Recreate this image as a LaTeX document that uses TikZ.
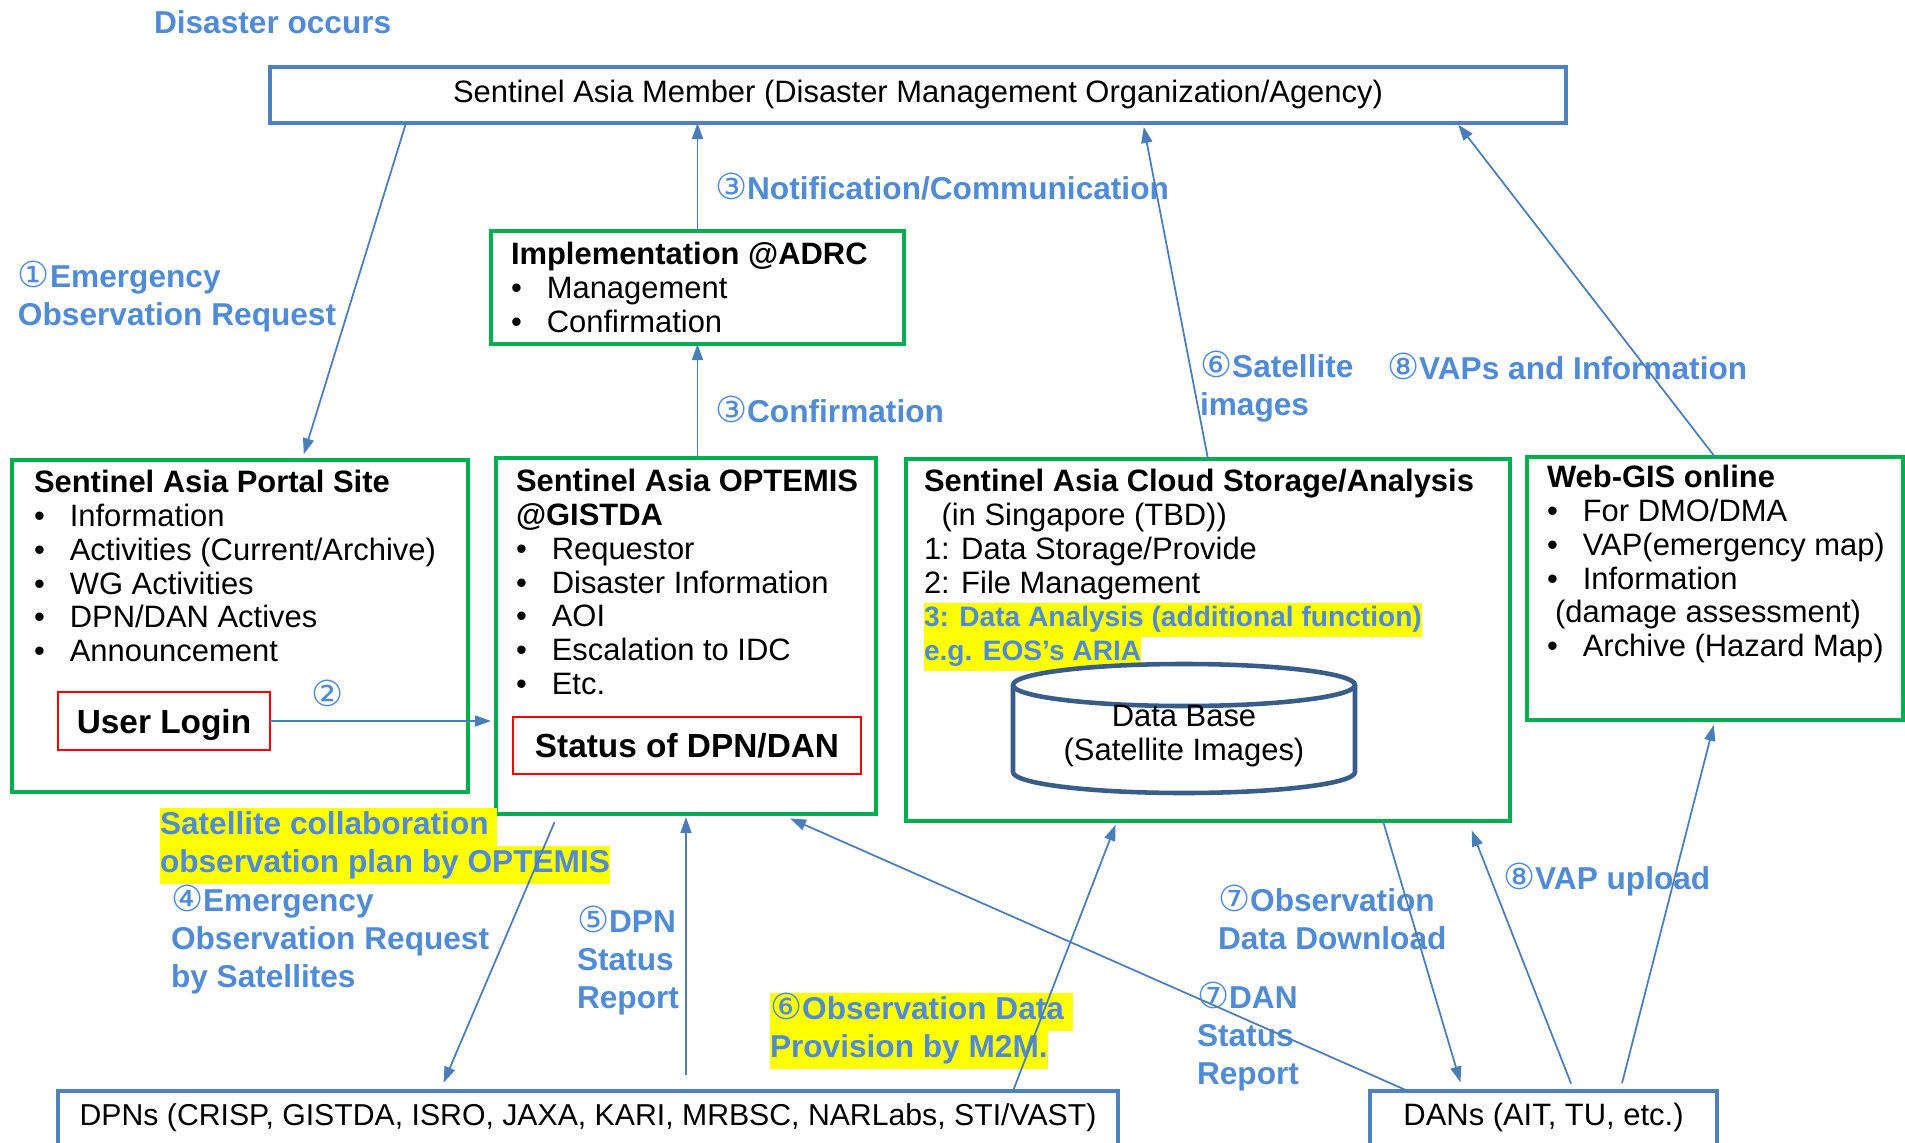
\documentclass[tikz,border=0pt]{standalone}
\usepackage{fontspec}
\setmainfont{Liberation Sans}
\newfontfamily\circfont{DejaVu Sans}
\usepackage{xcolor}
\usetikzlibrary{arrows.meta,positioning,calc}
\definecolor{linkblue}{HTML}{4A7EBB}
\definecolor{labelblue}{HTML}{4F8BD6}
\definecolor{boxgreen}{HTML}{00B050}
\definecolor{frameblue}{HTML}{4F81BD}
\definecolor{dbblue}{HTML}{385D8A}
\definecolor{hlyellow}{HTML}{FFFF00}
\definecolor{loginred}{HTML}{FF0000}
\newcommand{\bul}{\makebox[10.2pt][l]{\textbullet}}
\newcommand{\cnum}[1]{{\circfont\mdseries\fontsize{10.2}{10.8}\selectfont #1}}
\newcommand{\hl}[1]{{\setlength{\fboxsep}{0pt}\colorbox{hlyellow}{\strut#1}}}

\begin{document}
\begin{tikzpicture}[
  every node/.style={inner sep=0pt,outer sep=0pt},
  gbox/.style={draw=boxgreen,line width=1.4pt},
  bbox/.style={draw=frameblue,line width=1.4pt},
  rbox/.style={draw=loginred,line width=0.6pt,font=\fontsize{9.5}{11}\selectfont\bfseries},
  body/.style={font=\fontsize{8.8}{9.6}\selectfont,align=left,anchor=north west},
  lbl/.style={font=\fontsize{9}{10.8}\selectfont\bfseries,text=labelblue,align=left,anchor=north west},
  arrow/.style={-{Triangle[length=1.6mm,width=1.1mm]},draw=linkblue,line width=0.5pt}
]
\useasboundingbox (0,0) rectangle (19.05,-11.43);

% boxes
\node[bbox,minimum width=12.96cm,minimum height=0.56cm,font=\fontsize{8.8}{9.6}\selectfont] (member) at (9.18,-0.95) {Sentinel Asia Member (Disaster Management Organization/Agency)};
\node[gbox,minimum width=4.13cm,minimum height=1.13cm] (impl) at (6.975,-2.875) {};
\node[gbox,minimum width=4.56cm,minimum height=3.32cm] (portal) at (2.40,-6.26) {};
\node[gbox,minimum width=3.80cm,minimum height=3.56cm] (optemis) at (6.86,-6.36) {};
\node[gbox,minimum width=6.04cm,minimum height=3.62cm] (cloud) at (12.08,-6.40) {};
\node[gbox,minimum width=3.76cm,minimum height=2.63cm] (webgis) at (17.15,-5.885) {};
\node[bbox,minimum width=10.60cm,minimum height=0.70cm,anchor=north] (dpn) at (5.88,-10.91) {};
\node[bbox,minimum width=3.47cm,minimum height=0.70cm,anchor=north] (dan) at (15.435,-10.91) {};
\node[rbox,minimum width=2.12cm,minimum height=0.58cm,text depth=0pt] (login) at (1.64,-7.21) {User Login};
\node[rbox,minimum width=3.48cm,minimum height=0.57cm] (status) at (6.87,-7.455) {Status of DPN/DAN};

% box texts
\node[body] (impltxt) at ([shift={(0.20,-0.103)}]impl.north west) {\strut\textbf{Implementation @ADRC}\\\bul Management\\\bul Confirmation};
\node[body] (portaltxt) at ([shift={(0.22,-0.093)}]portal.north west) {\strut\textbf{Sentinel Asia Portal Site}\\\bul Information\\\bul Activities (Current/Archive)\\\bul WG Activities\\\bul DPN/DAN Actives\\\bul Announcement};
\node[body] (optemistxt) at ([shift={(0.20,-0.103)}]optemis.north west) {\strut\textbf{Sentinel Asia OPTEMIS}\\\textbf{@GISTDA}\\\bul Requestor\\\bul Disaster Information\\\bul AOI\\\bul Escalation to IDC\\\bul Etc.};
\node[body] (cloudtxt) at ([shift={(0.18,-0.093)}]cloud.north west) {\strut\textbf{Sentinel Asia Cloud Storage/Analysis}\\\hspace*{5pt}(in Singapore (TBD))\\1: Data Storage/Provide\\2: File Management\\\hl{\textcolor{labelblue}{\bfseries\fontsize{8}{9.6}\selectfont 3: Data Analysis (additional function)}}\\\hl{\textcolor{labelblue}{\bfseries\fontsize{8}{9.6}\selectfont e.g. EOS’s ARIA}}};
\node[body] (webgistxt) at ([shift={(0.20,-0.073)}]webgis.north west) {\strut\textbf{Web-GIS online}\\\bul For DMO/DMA\\\bul VAP(emergency map)\\\bul Information\\\hspace*{2.3pt}(damage assessment)\\\bul Archive (Hazard Map)};
\node[font=\fontsize{8.6}{9.6}\selectfont,anchor=base] (dpntxt) at ([yshift=-0.34cm]dpn.north) {DPNs (CRISP, GISTDA, ISRO, JAXA, KARI, MRBSC, NARLabs, STI/VAST)};
\node[font=\fontsize{8.8}{9.6}\selectfont,anchor=base] (dantxt) at ([yshift=-0.34cm]dan.north) {DANs (AIT, TU, etc.)};

% data base cylinder
\draw[dbblue,line width=1.3pt] (10.13,-6.85) -- (10.13,-7.72) arc[start angle=180,end angle=360,x radius=1.71,y radius=0.21] -- (13.55,-6.85);
\draw[dbblue,line width=1.3pt,fill=white] (11.84,-6.85) ellipse[x radius=1.71,y radius=0.21];
\node[font=\fontsize{8.8}{9.9}\selectfont,align=center] (dbtxt) at (11.84,-7.36) {Data Base\\(Satellite Images)};

% labels
\node[lbl] (occurs) at (1.54,-0.073) {\strut Disaster occurs};
\node[lbl] (req) at (0.18,-2.613) {\strut\cnum{①}Emergency\\Observation Request};
\node[lbl] (notif) at (7.15,-1.733) {\strut\cnum{③}Notification/Communication};
\node[lbl] (confirm) at (7.15,-3.963) {\strut\cnum{③}Confirmation};
\node[lbl,anchor=center] (step2) at (3.28,-6.93) {\cnum{②}};
\node[lbl] (satimg) at (12.00,-3.513) {\strut\cnum{⑥}Satellite\\images};
\node[lbl] (vaps) at (13.87,-3.533) {\strut\cnum{⑧}VAPs and Information};
\node[lbl] (plan) at (1.60,-8.083) {\hl{Satellite collaboration\ }\\\hl{observation plan by OPTEMIS}};
\node[lbl] (obsreq) at (1.71,-8.853) {\strut\cnum{④}Emergency\\Observation Request\\by Satellites};
\node[lbl] (dpnstat) at (5.77,-9.063) {\strut\cnum{⑤}DPN\\Status\\Report};
\node[lbl] (m2m) at (7.70,-9.933) {\hl{\cnum{⑥}Observation Data\ }\\\hl{Provision by M2M.}};
\node[lbl] (download) at (12.18,-8.853) {\strut\cnum{⑦}Observation\\Data Download};
\node[lbl] (danstat) at (11.97,-9.823) {\strut\cnum{⑦}DAN\\Status\\Report};
\node[lbl] (upload) at (15.03,-8.633) {\strut\cnum{⑧}VAP upload};

% connectors
\draw[arrow,shorten >=0.6mm] ([xshift=13.6mm]member.south west) -- ([xshift=29mm]portal.north west);
\draw[arrow] (impl.north) -- (impl.north |- member.south);
\draw[arrow] (impl.south |- optemis.north) -- (impl.south);
\draw[arrow,shorten >=0.5mm] (login.east) -- (login.east -| optemis.west);
\draw[arrow,shorten >=0.4mm] (cloud.north) -- ([xshift=87.3mm]member.south west);
\draw[arrow,shorten >=0.2mm] (webgis.north) -- ([xshift=118.7mm]member.south west);
\draw[arrow,shorten <=0.9mm,shorten >=0.9mm] ([xshift=6.2mm]optemis.south west) -- ([xshift=38.2mm]dpn.north west);
\draw[arrow,shorten <=1.6mm,shorten >=0.3mm] (optemis.south |- dpn.north) -- (optemis.south);
\draw[arrow,shorten >=1.1mm] ([xshift=3.8mm]dan.north west) -- ([xshift=28.4mm]optemis.south west);
\draw[arrow,shorten >=0.4mm] ([xshift=95.5mm]dpn.north west) -- ([xshift=21.1mm]cloud.south west);
\draw[arrow,shorten >=0.9mm] ([xshift=47.7mm]cloud.south west) -- ([xshift=9.3mm]dan.north west);
\draw[arrow,shorten <=0.8mm,shorten >=1mm] ([xshift=20.4mm]dan.north west) -- ([xshift=56.2mm]cloud.south west);
\draw[arrow,shorten <=0.8mm,shorten >=0.5mm] ([xshift=25mm]dan.north west) -- (webgis.south);
\end{tikzpicture}
\end{document}
